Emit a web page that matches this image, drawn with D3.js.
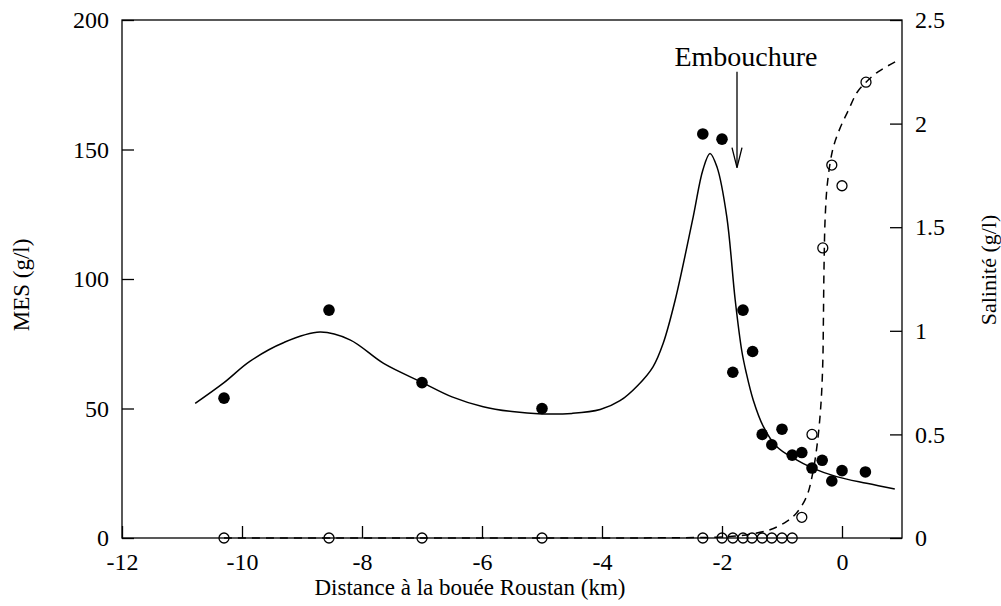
<!DOCTYPE html>
<html><head><meta charset="utf-8">
<script src="https://cdn.jsdelivr.net/npm/d3@7"></script>
<style>
body{margin:0;background:#fff;}
text{font-family:"Liberation Serif","Times New Roman",serif;fill:#000;}
</style></head>
<body><svg id="c" width="1001" height="606"></svg>
<script>
// MES measurements (filled circles)
const mesX = [-10.3,-8.55,-7.0,-5.0,-2.32,-2.0,-1.65,-1.49,-1.82,-1.33,-1.0,-1.17,-0.83,-0.67,-0.5,-0.33,-0.17,0.0,0.39];
const mesY = [54,88,60,50,156,154,88,72,64,40,42,36,32,33,27,30,22,26,25.5];
// Salinity measurements (open circles)
const salX = [-10.3,-8.55,-7.0,-5.0,-2.32,-2.0,-1.82,-1.65,-1.5,-1.33,-1.17,-1.0,-0.83,-0.67,-0.5,-0.32,-0.17,0.0,0.4];
const salY = [0,0,0,0,0,0,0,0,0,0,0,0,0,0.1,0.5,1.4,1.8,1.7,2.2];
// Fitted MES curve (solid)
const fitMesX = [-10.78,-10.3,-9.87,-9.3,-8.7,-8.2,-7.64,-7.0,-6.5,-5.98,-5.5,-5.0,-4.5,-4.03,-3.7,-3.4,-3.15,-2.98,-2.78,-2.48,-2.32,-2.2,-2.08,-1.92,-1.78,-1.67,-1.6,-1.48,-1.31,-1.09,-0.81,-0.48,-0.09,0.41,0.88];
const fitMesY = [52,60,68.2,75.5,79.5,76.5,67.4,60.1,54.5,50.7,48.8,47.9,48.1,49.6,53,59,66.1,75.2,91.9,124,142,148.5,143,124,91.9,72.2,64.2,53.3,43,35.3,30.8,26.9,23.7,21.1,18.9];
// Fitted salinity curve (dashed)
const fitSalX = [-10.3,-8,-6,-4,-3,-2,-1.6,-1.2,-0.92,-0.76,-0.59,-0.49,-0.41,-0.35,-0.32,-0.31,-0.3,-0.28,-0.24,-0.15,-0.03,0.1,0.25,0.4,0.6,0.9];
const fitSalY = [0,0,0,0,0.001,0.005,0.015,0.04,0.08,0.12,0.2,0.31,0.46,0.65,0.85,1.05,1.3,1.55,1.72,1.88,1.98,2.06,2.15,2.2,2.25,2.3];
// Axis ticks
const xTicks = [-12,-10,-8,-6,-4,-2,0];
const yLeftTicks = [0,50,100,150,200];
const yRightTicks = [0,0.5,1,1.5,2,2.5];
// Annotation
const annotText = "Embouchure";
const annotX = -1.75, annotTop = 180, annotTip = 143;

const svg = d3.select("#c");
const L=122, R=902, T=20, B=538;
const x = d3.scaleLinear().domain([-12,1]).range([L,R]);
const yL = d3.scaleLinear().domain([0,200]).range([B,T]);
const yR = d3.scaleLinear().domain([0,2.5]).range([B,T]);

// frame
svg.append("rect").attr("x",L).attr("y",T).attr("width",R-L).attr("height",B-T)
  .attr("fill","none").attr("stroke","#000").attr("stroke-width",1.3);

function styleAxis(g){
  g.select(".domain").remove();
  g.selectAll(".tick line").attr("stroke","#000").attr("stroke-width",1.3);
  g.selectAll(".tick text").style("font-size","24px").style("font-family","Liberation Serif");
}
svg.append("g").attr("transform",`translate(0,${B})`)
  .call(d3.axisBottom(x).tickValues(xTicks).tickSize(-12).tickPadding(15).tickFormat(d=>String(d)))
  .call(styleAxis);
svg.append("g").attr("transform",`translate(${L},0)`)
  .call(d3.axisLeft(yL).tickValues(yLeftTicks).tickSize(-12).tickPadding(13).tickFormat(d=>String(d)))
  .call(styleAxis);
svg.append("g").attr("transform",`translate(${R},0)`)
  .call(d3.axisRight(yR).tickValues(yRightTicks).tickSize(-12).tickPadding(13).tickFormat(d=>String(d)))
  .call(styleAxis);

// axis titles
svg.append("text").attr("x",470).attr("y",595).attr("text-anchor","middle")
  .style("font-size","23px").text("Distance à la bouée Roustan (km)");
svg.append("text").attr("transform","translate(29,285) rotate(-90)").attr("text-anchor","middle")
  .style("font-size","23px").text("MES (g/l)");
svg.append("text").attr("transform","translate(996,270) rotate(-90)").attr("text-anchor","middle")
  .style("font-size","22px").text("Salinité (g/l)");

// curves
const mesLine = d3.line().x(d=>x(d[0])).y(d=>yL(d[1])).curve(d3.curveCatmullRom.alpha(0.5));
svg.append("path").datum(d3.zip(fitMesX,fitMesY)).attr("d",mesLine)
  .attr("fill","none").attr("stroke","#000").attr("stroke-width",1.5);
const salLine = d3.line().x(d=>x(d[0])).y(d=>yR(d[1])).curve(d3.curveCatmullRom.alpha(0.5));
svg.append("path").datum(d3.zip(fitSalX,fitSalY)).attr("d",salLine)
  .attr("fill","none").attr("stroke","#000").attr("stroke-width",1.5).attr("stroke-dasharray","8,6");

// points
svg.append("g").selectAll("circle").data(d3.zip(salX,salY)).join("circle")
  .attr("cx",d=>x(d[0])).attr("cy",d=>yR(d[1])).attr("r",5)
  .attr("fill","none").attr("stroke","#000").attr("stroke-width",1.3);
svg.append("g").selectAll("circle").data(d3.zip(mesX,mesY)).join("circle")
  .attr("cx",d=>x(d[0])).attr("cy",d=>yL(d[1])).attr("r",5.8).attr("fill","#000");

// annotation
const ax = x(annotX), at = yL(annotTop), ab = yL(annotTip);
svg.append("line").attr("x1",ax).attr("x2",ax).attr("y1",at).attr("y2",ab)
  .attr("stroke","#000").attr("stroke-width",1.3);
svg.append("path").attr("d",`M${ax-5},${ab-20}L${ax},${ab}L${ax+5},${ab-20}`)
  .attr("fill","none").attr("stroke","#000").attr("stroke-width",1.3);
svg.append("text").attr("x",ax+9).attr("y",at-6).attr("text-anchor","middle")
  .style("font-size","28px").text(annotText);
</script></body></html>
